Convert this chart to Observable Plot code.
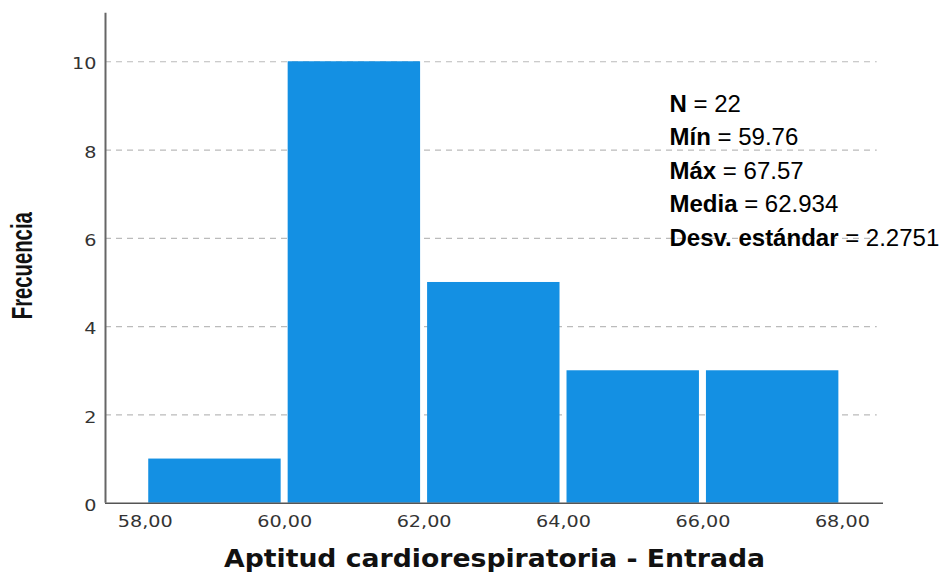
<!DOCTYPE html>
<html>
<head>
<meta charset="utf-8">
<script src="https://cdn.jsdelivr.net/npm/d3@7"></script>
<script src="https://cdn.jsdelivr.net/npm/@observablehq/plot@0.6"></script>
<style>
  html, body { margin: 0; padding: 0; background: #fff; }
</style>
</head>
<body>
<div id="chart"></div>
<script>
// ---- data ----
const binStarts = [58, 60, 62, 64, 66];
const binEnds   = [60, 62, 64, 66, 68];
const counts    = [1, 10, 5, 3, 3];
const xTicks = [58, 60, 62, 64, 66, 68];
const xTickLabels = ["58,00", "60,00", "62,00", "64,00", "66,00", "68,00"];
const yTicks = [0, 2, 4, 6, 8, 10];
const gridTicks = [2, 4, 6, 8, 10];
const statLabels = ["N", "Mín", "Máx", "Media", "Desv. estándar"];
const statValues = ["22", "59.76", "67.57", "62.934", "2.2751"];
const xTitle = "Aptitud cardiorespiratoria - Entrada";
const yTitle = "Frecuencia";

const xDomain = [57.43, 68.59];
const yDomain = [0, 11.1];

const bins = binStarts.map((s, i) => ({x1: s, x2: binEnds[i], count: counts[i]}));
const statText = statLabels.map((l, i) => `${l} = ${statValues[i]}`).join("\n");

const chart = Plot.plot({
  width: 941,
  height: 573,
  marginLeft: 105,
  marginRight: 58,
  marginTop: 12.7,
  marginBottom: 70.3,
  style: {fontFamily: "DejaVu Sans", fontSize: "16px", color: "#333", background: "white", overflow: "visible"},
  x: {domain: xDomain, ticks: xTicks, tickFormat: d => xTickLabels[xTicks.indexOf(d)], tickSize: 0, tickPadding: 12, label: null},
  y: {domain: yDomain, ticks: yTicks, tickSize: 0, tickPadding: 9, label: null},
  marks: [
    Plot.ruleY(gridTicks, {x1: xDomain[0], x2: 68.5, stroke: "#bbb", strokeWidth: 1.2, strokeDasharray: "6,5"}),
    Plot.rectY(bins, {x1: "x1", x2: "x2", y: "count", fill: "#1490e3", insetLeft: 3.5, insetRight: 3.5}),
    Plot.ruleY([0], {x1: xDomain[0], x2: xDomain[1], stroke: "#555", strokeWidth: 1.5}),
    Plot.ruleX([xDomain[0]], {y1: yDomain[0], y2: yDomain[1], stroke: "#666", strokeWidth: 2}),
    Plot.text([statText], {frameAnchor: "top-left", dx: 564, dy: 75, textAnchor: "start", lineAnchor: "top",
      lineHeight: 1.395, fontSize: 24, fontFamily: "Liberation Sans, Arial, sans-serif", fill: "#000"}),
    Plot.text([xTitle], {frameAnchor: "bottom", dx: 0, dy: 56.5, lineAnchor: "middle", fontSize: 24,
      fontWeight: "bold", fontFamily: "DejaVu Sans", fill: "#111"}),
    Plot.text([yTitle], {frameAnchor: "left", dx: -83, dy: 61, rotate: -90, lineAnchor: "middle", fontSize: 30,
      fontWeight: "bold", fontFamily: "Liberation Sans, Arial, sans-serif", fill: "#111"})
  ]
});

document.getElementById("chart").appendChild(chart);

// post-process text styling
const svg = d3.select(chart);
function widen(sel, extraY) {
  sel.each(function() {
    const t = d3.select(this);
    const ax = +t.attr("x") || 0;
    const ay = +t.attr("y") || 0;
    const tr = t.attr("transform") || "";
    t.attr("transform", `${tr} translate(${ax},${ay + extraY}) scale(1.2,1) translate(${-ax},${-ay})`);
  });
}
widen(svg.selectAll("g[aria-label^='x-axis'] text"), 0);
widen(svg.selectAll("g[aria-label^='y-axis'] text"), 2.5);

// stretch/compress titles to measured lengths
svg.selectAll("g[aria-label='text'] text").each(function() {
  const t = d3.select(this);
  const content = this.textContent;
  if (content === xTitle) {
    t.attr("textLength", 541).attr("lengthAdjust", "spacingAndGlyphs");
  } else if (content === yTitle) {
    t.attr("textLength", 107).attr("lengthAdjust", "spacingAndGlyphs");
  } else {
    t.selectAll("tspan").each(function() {
      const ts = d3.select(this);
      const line = this.textContent;
      const idx = line.indexOf(" = ");
      if (idx < 0) return;
      ts.text("");
      ts.append("tspan").attr("font-weight", "bold").text(line.slice(0, idx));
      ts.append("tspan").text(line.slice(idx));
    });
  }
});
</script>
</body>
</html>
